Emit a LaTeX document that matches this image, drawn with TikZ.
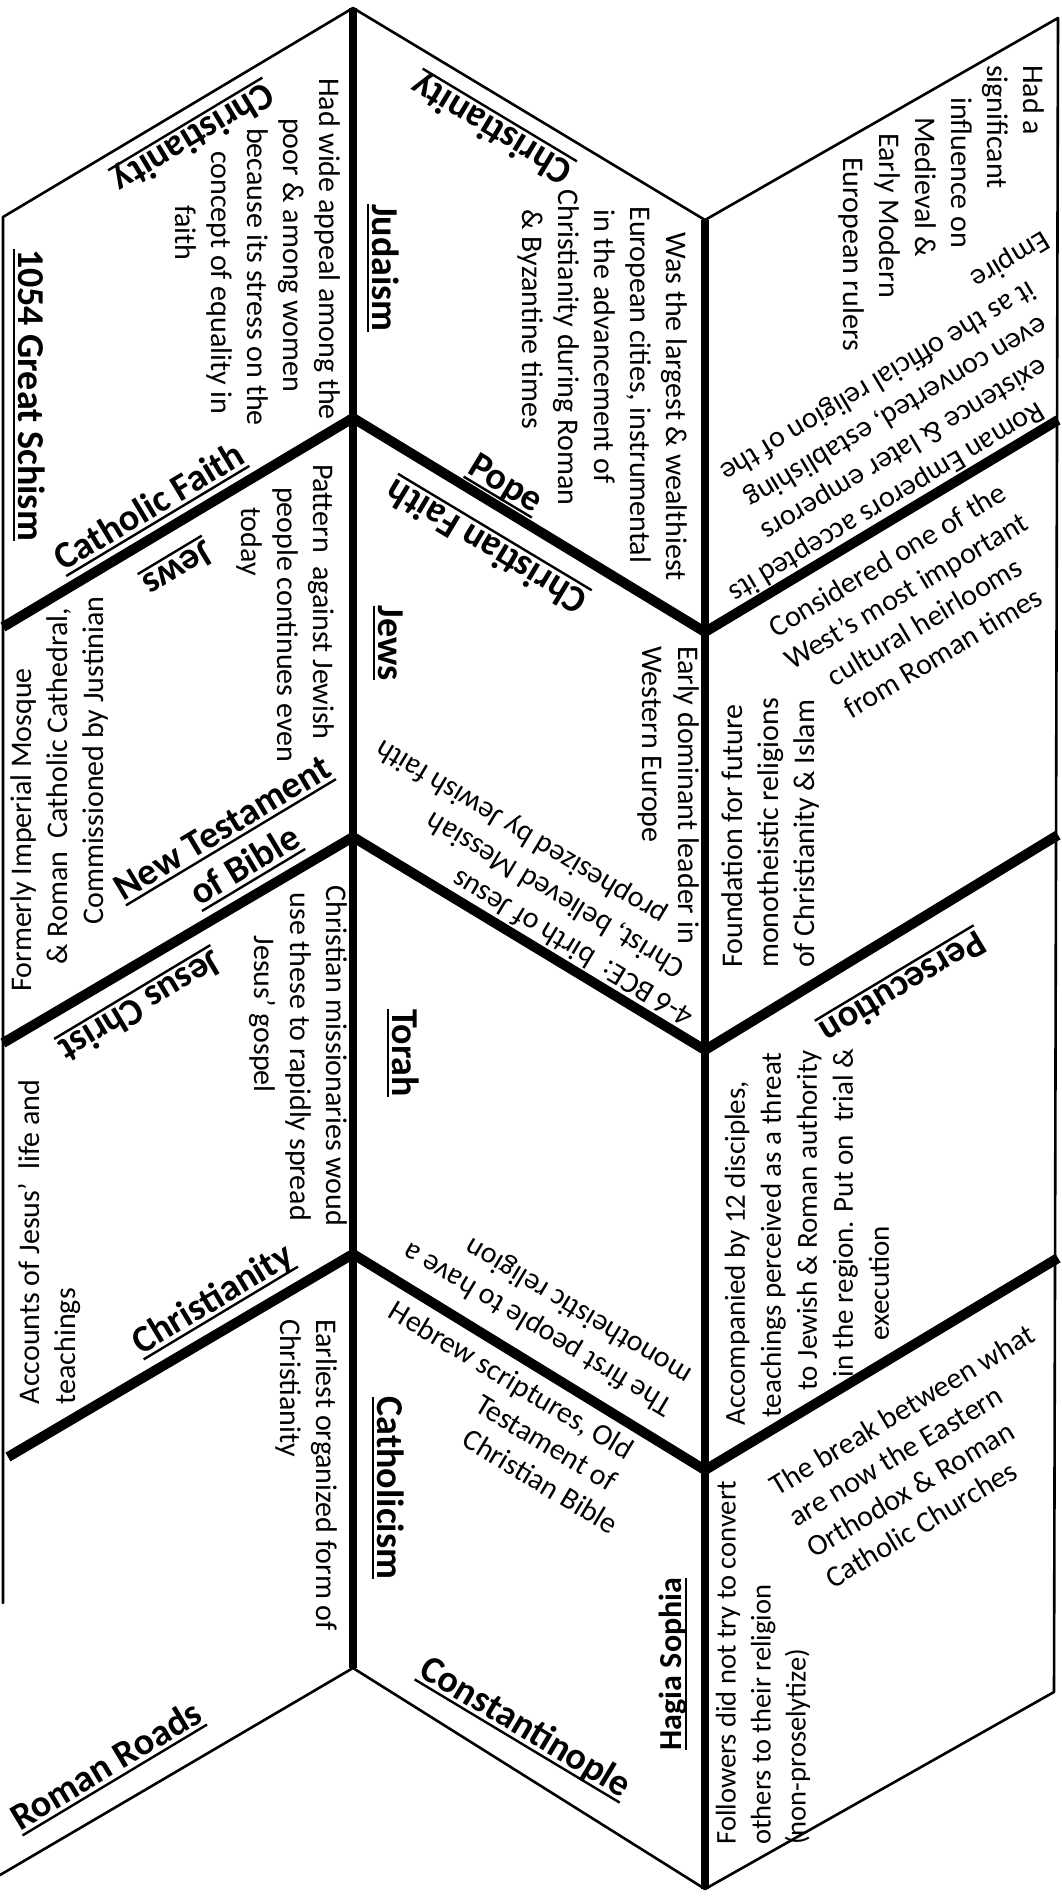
\documentclass[tikz,border=0pt]{standalone}
\usepackage{fontspec}
\setmainfont{Carlito}
\newcommand{\myul}[1]{\setbox0=\hbox{#1}\rlap{\rule[-6pt]{\wd0}{2.4pt}}\box0}
\begin{document}
\begin{tikzpicture}[x=1pt,y=-1pt,
  bodytxt/.style={font=\fontsize{30}{36}\selectfont, inner sep=0pt},
  ttl/.style={font=\bfseries\fontsize{38}{44}\selectfont, inner sep=0pt},
  thinedge/.style={line width=2.6pt, line cap=round, line join=round},
  divline/.style={line width=10pt, line cap=butt, line join=round},
  vline/.style={line width=8pt, line cap=butt}]
\useasboundingbox (0,0) rectangle (1061,1901);
\fill[white] (0,0) rectangle (1061,1901);
% corner coordinates
\coordinate (Lend) at (3,1603);
\coordinate (LT) at (3,217);
\coordinate (A0) at (353,8);
\coordinate (MT) at (705,220);
\coordinate (RT) at (1058,18);
\coordinate (RB) at (1054,1692);
\coordinate (MB) at (705,1889);
\coordinate (VB) at (353,1668);
\coordinate (LB) at (0,1875);
\coordinate (LD1a) at (3,627);
\coordinate (J1) at (353,418);
\coordinate (K1) at (705,632);
\coordinate (RD1b) at (1058,420);
\coordinate (LD2a) at (3,1043);
\coordinate (J2) at (353,837);
\coordinate (K2) at (705,1050);
\coordinate (RD2b) at (1058,835);
\coordinate (LD3a) at (8,1457);
\coordinate (J3) at (353,1254);
\coordinate (K3) at (705,1470);
\coordinate (RD3b) at (1058,1258);
% outline
\draw[thinedge] (Lend) -- (LT) -- (A0) -- (MT) -- (RT) -- (RB) -- (MB) -- (VB) -- (LB);
% dividers
\draw[divline] (LD1a) -- (J1) -- (K1) -- (RD1b);
\draw[divline] (LD2a) -- (J2) -- (K2) -- (RD2b);
\draw[divline] (LD3a) -- (J3) -- (K3) -- (RD3b);
\draw[vline] (A0) -- (VB);
\draw[vline] (MT) -- (MB);
% ---------- left column
\node[ttl, rotate=211] (t1) at (193,137) {\myul{Christianity}};
\node[bodytxt, rotate=-90, align=left] (b1) at (258,252) {Had wide appeal among the\\\hspace*{40pt}poor \& among women\\\hspace*{50pt}because its stress on the\\\hspace*{73pt}concept of equality in\\\hspace*{127pt}faith};
\node[ttl, rotate=-90] (t2) at (29,395) {\myul{1054 Great Schism}};
\node[ttl, rotate=31] (t3) at (150,508) {\myul{Catholic Faith}};
\node[ttl, rotate=211] (t4) at (177,567) {\myul{Jews}};
\node[bodytxt, rotate=-90, align=left] (b2) at (285,613) {Pattern\ \ against Jewish\\\hspace*{23pt}people continues even\\\hspace*{43pt}today};
\node[bodytxt, rotate=90, align=left] (b3) at (60,794) {Formerly Imperial Mosque\\\hspace*{27pt}\& Roman\ \ Catholic Cathedral,\\\hspace*{67pt}Commissioned by Justinian};
\node[ttl, rotate=31, align=center] (t5) at (235,849) {\myul{New Testament}\\\myul{of Bible}};
\node[ttl, rotate=211] (t6) at (140,1005) {\myul{Jesus Christ}};
\node[bodytxt, rotate=-90, align=left] (b4) at (298,1056) {Christian missionaries woud\\\hspace*{7pt}use these to rapidly spread\\\hspace*{50pt}Jesus’ gospel};
\node[bodytxt, rotate=90, align=left] (b5) at (50,1242) {Accounts of Jesus’\ \ life and\\teachings};
\node[ttl, rotate=31] (t7) at (213,1300) {\myul{Christianity}};
\node[bodytxt, rotate=-90, align=left] (b6) at (306,1475) {Earliest organized form of\\Christianity};
\node[ttl, rotate=31] (t8) at (107,1767) {\myul{Roman Roads}};
% ---------- middle column
\node[ttl, rotate=149] (t9) at (492,128) {\myul{Christianity}};
\node[ttl, rotate=-90] (t10) at (383,268) {\myul{Judaism}};
\node[bodytxt, rotate=-90, align=left] (b7) at (602,385) {\hspace*{43pt}Was the largest \& wealthiest\\\hspace*{17pt}European cities, instrumental\\\hspace*{20pt}in the advancement of\\Christianity during Roman\\\hspace*{20pt}\& Byzantine times};
\node[ttl, rotate=-31] (t11) at (505,485) {\myul{Pope}};
\node[ttl, rotate=149] (t12) at (487,545) {\myul{Christian Faith}};
\node[ttl, rotate=-90] (t13) at (388,643) {\myul{Jews}};
\node[bodytxt, rotate=-90, align=left] (b8) at (668,795) {Early dominant leader in\\Western Europe};
\node[bodytxt, rotate=149, align=left] (b9) at (535,882) {4-6 BCE:\ \ birth of Jesus\\\hspace*{32pt}Christ, believed Messiah\\\hspace*{75pt}prophesized by Jewish faith};
\node[ttl, rotate=-90] (t14) at (403,1053) {\myul{Torah}};
\node[bodytxt, rotate=149, align=left] (b10) at (548,1313) {The first people to have a\\monotheistic religion};
\node[bodytxt, rotate=-31, align=left] (b11) at (504,1417) {Hebrew scriptures, Old\\\hspace*{122pt}Testament of\\\hspace*{129pt}Christian Bible};
\node[ttl, rotate=-90] (t15) at (388,1488) {\myul{Catholicism}};
\node[ttl, rotate=-31] (t16) at (525,1728) {\myul{Constantinople}};
\node[ttl, rotate=90, font=\bfseries\fontsize{32}{38}\selectfont] (t17) at (673,1664) {\myul{Hagia Sophia}};
% ---------- right column
\node[bodytxt, rotate=-90, align=left] (b12) at (941,208) {Had a\\significant\\\hspace*{32pt}influence on\\\hspace*{52pt}Medieval \&\\\hspace*{68pt}Early Modern\\\hspace*{92pt}European rulers};
\node[bodytxt, rotate=211, align=left] (b13) at (889,416) {\hspace*{93pt}Roman Emperors accepted its\\\hspace*{68pt}existence \& later emperors\\\hspace*{46pt}even converted, establishing\\\hspace*{38pt}it as the official religion of the\\Empire};
\node[bodytxt, rotate=31, align=center] (b14) at (915,606) {Considered one of the\\West’s most important\\cultural heirlooms\\from Roman times};
\node[bodytxt, rotate=90, align=left] (b15) at (770,833) {Foundation for future\\monotheistic religions\\of Christianity \& Islam};
\node[ttl, rotate=211] (t18) at (902,986) {\myul{Persecution}};
\node[bodytxt, rotate=90, align=left, font=\fontsize{29}{36}\selectfont] (b16) at (807,1237) {Accompanied by 12 disciples,\\\hspace*{8pt}teachings perceived as a threat\\\hspace*{35pt}to Jewish \& Roman authority\\\hspace*{48pt}in the region. Put on\ \ trial \&\\\hspace*{85pt}execution};
\node[bodytxt, rotate=31, align=left] (b17) at (930,1456) {The break between what\\are now the Eastern\\Orthodox \& Roman\\Catholic Churches};
\node[bodytxt, rotate=90, align=left, font=\fontsize{28.5}{35}\selectfont] (b18) at (763,1663) {Followers did not try to convert\\others to their religion\\(non-proselytize)};
\end{tikzpicture}
\end{document}
